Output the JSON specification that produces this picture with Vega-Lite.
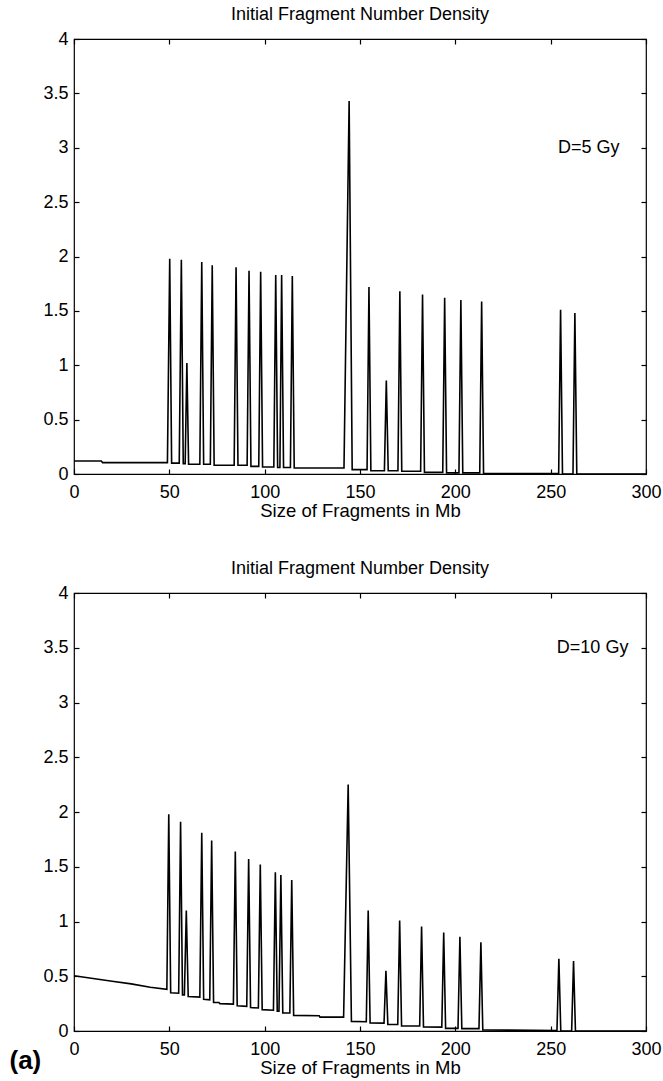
{
  "$schema": "https://vega.github.io/schema/vega-lite/v6.json",
  "padding": {"left": 8, "top": 5, "right": 5, "bottom": 0},
  "background": "white",
  "config": {
    "font": "Liberation Sans",
    "view": {"stroke": "black", "strokeWidth": 1.2},
    "concat": {"spacing": 38},
    "axis": {
      "grid": false,
      "domain": false,
      "tickColor": "black",
      "tickWidth": 1.2,
      "labelColor": "black",
      "titleColor": "black",
      "labelFontSize": 18,
      "titleFontSize": 18.5,
      "titleFontWeight": "normal",
      "labelFlush": false,
      "tickSize": 5,
      "offset": -5,
      "titlePadding": 0
    },
    "title": {"fontSize": 18, "fontWeight": "normal", "color": "black", "offset": 6}
  },
  "datasets": {
    "d5": [
      {"size": 0, "density": 0.12}, {"size": 14.3, "density": 0.12}, {"size": 15, "density": 0.105},
      {"size": 49, "density": 0.105}, {"size": 50.2, "density": 1.98}, {"size": 51.2, "density": 0.1},
      {"size": 55.2, "density": 0.1}, {"size": 56.3, "density": 1.97}, {"size": 57.3, "density": 0.095},
      {"size": 58.3, "density": 0.095}, {"size": 59.2, "density": 1.02}, {"size": 60.1, "density": 0.09},
      {"size": 66, "density": 0.09}, {"size": 67, "density": 1.95}, {"size": 68, "density": 0.09},
      {"size": 71.5, "density": 0.09}, {"size": 72.5, "density": 1.92}, {"size": 73.5, "density": 0.08},
      {"size": 84, "density": 0.08}, {"size": 85, "density": 1.9}, {"size": 86, "density": 0.08},
      {"size": 90.8, "density": 0.08}, {"size": 91.8, "density": 1.87}, {"size": 92.8, "density": 0.07},
      {"size": 96.9, "density": 0.07}, {"size": 97.9, "density": 1.86}, {"size": 98.9, "density": 0.065},
      {"size": 104.8, "density": 0.065}, {"size": 105.8, "density": 1.83}, {"size": 106.8, "density": 0.06},
      {"size": 108, "density": 0.06}, {"size": 108.9, "density": 1.83}, {"size": 109.9, "density": 0.06},
      {"size": 113.5, "density": 0.06}, {"size": 114.5, "density": 1.82}, {"size": 115.5, "density": 0.055},
      {"size": 141.6, "density": 0.055}, {"size": 144.3, "density": 3.43}, {"size": 145.9, "density": 0.04},
      {"size": 153.7, "density": 0.04}, {"size": 154.7, "density": 1.72}, {"size": 155.7, "density": 0.03},
      {"size": 162.8, "density": 0.03}, {"size": 163.8, "density": 0.86}, {"size": 164.8, "density": 0.03},
      {"size": 169.9, "density": 0.03}, {"size": 170.9, "density": 1.68}, {"size": 171.9, "density": 0.025},
      {"size": 181.8, "density": 0.025}, {"size": 182.8, "density": 1.65}, {"size": 183.8, "density": 0.015},
      {"size": 193.4, "density": 0.015}, {"size": 194.4, "density": 1.62}, {"size": 195.4, "density": 0.01},
      {"size": 201.9, "density": 0.01}, {"size": 202.9, "density": 1.6}, {"size": 203.9, "density": 0.01},
      {"size": 212.8, "density": 0.01}, {"size": 213.8, "density": 1.585}, {"size": 214.8, "density": 0.005},
      {"size": 254.2, "density": 0.005}, {"size": 255.2, "density": 1.51}, {"size": 256.2, "density": 0},
      {"size": 261.7, "density": 0}, {"size": 262.7, "density": 1.48}, {"size": 263.7, "density": 0},
      {"size": 300, "density": 0}
    ],
    "d10": [
      {"size": 0, "density": 0.505}, {"size": 10, "density": 0.48}, {"size": 20, "density": 0.455},
      {"size": 30, "density": 0.43}, {"size": 40, "density": 0.4},
      {"size": 48.7, "density": 0.38}, {"size": 49.7, "density": 1.98}, {"size": 50.7, "density": 0.35},
      {"size": 54.9, "density": 0.345}, {"size": 55.9, "density": 1.91}, {"size": 56.9, "density": 0.33},
      {"size": 57.9, "density": 0.33}, {"size": 58.9, "density": 1.1}, {"size": 59.9, "density": 0.315},
      {"size": 66, "density": 0.31}, {"size": 67, "density": 1.81}, {"size": 68, "density": 0.29},
      {"size": 71.2, "density": 0.285}, {"size": 72.2, "density": 1.74}, {"size": 73.2, "density": 0.26},
      {"size": 76, "density": 0.26}, {"size": 76.5, "density": 0.25},
      {"size": 83.6, "density": 0.245}, {"size": 84.6, "density": 1.64}, {"size": 85.6, "density": 0.23},
      {"size": 90.6, "density": 0.225}, {"size": 91.6, "density": 1.57}, {"size": 92.6, "density": 0.215},
      {"size": 96.7, "density": 0.21}, {"size": 97.7, "density": 1.52}, {"size": 98.7, "density": 0.195},
      {"size": 104.6, "density": 0.19}, {"size": 105.6, "density": 1.45}, {"size": 106.6, "density": 0.18},
      {"size": 107.5, "density": 0.18}, {"size": 108.5, "density": 1.425}, {"size": 109.5, "density": 0.165},
      {"size": 113.2, "density": 0.165}, {"size": 114.2, "density": 1.38}, {"size": 115.2, "density": 0.143},
      {"size": 128.6, "density": 0.14}, {"size": 129, "density": 0.127},
      {"size": 141.4, "density": 0.127}, {"size": 143.8, "density": 2.25}, {"size": 145.5, "density": 0.088},
      {"size": 153.3, "density": 0.085}, {"size": 154.3, "density": 1.1}, {"size": 155.3, "density": 0.073},
      {"size": 162.6, "density": 0.072}, {"size": 163.6, "density": 0.55}, {"size": 164.6, "density": 0.06},
      {"size": 169.8, "density": 0.06}, {"size": 170.8, "density": 1.01}, {"size": 171.8, "density": 0.045},
      {"size": 181.3, "density": 0.045}, {"size": 182.3, "density": 0.955}, {"size": 183.3, "density": 0.036},
      {"size": 192.9, "density": 0.035}, {"size": 193.9, "density": 0.9}, {"size": 194.9, "density": 0.024},
      {"size": 201.4, "density": 0.024}, {"size": 202.4, "density": 0.86}, {"size": 203.4, "density": 0.022},
      {"size": 212.4, "density": 0.022}, {"size": 213.4, "density": 0.81}, {"size": 214.4, "density": 0.01},
      {"size": 253.3, "density": 0.005}, {"size": 254.3, "density": 0.66}, {"size": 255.3, "density": 0},
      {"size": 261, "density": 0}, {"size": 262, "density": 0.64}, {"size": 263, "density": 0},
      {"size": 300, "density": 0}
    ],
    "lab5": [{"size": 270, "density": 3.0, "label": "D=5 Gy"}],
    "lab10": [{"size": 272, "density": 3.5, "label": "D=10 Gy"}],
    "panel": [{"size": -25.5, "density": -0.27, "label": "(a)"}]
  },
  "vconcat": [
    {
      "width": 572,
      "height": 435,
      "title": "Initial Fragment Number Density",
      "resolve": {"axis": {"x": "independent", "y": "independent"}},
      "layer": [
        {
          "data": {"name": "d5"},
          "mark": {"type": "line", "color": "black", "strokeWidth": 1.6, "interpolate": "linear"},
          "encoding": {
            "x": {"field": "size", "type": "quantitative", "scale": {"domain": [0, 300], "nice": false},
                  "axis": {"orient": "bottom", "values": [0, 50, 100, 150, 200, 250, 300], "labelPadding": 9, "title": "Size of Fragments in Mb"}},
            "y": {"field": "density", "type": "quantitative", "scale": {"domain": [0, 4], "nice": false},
                  "axis": {"orient": "left", "values": [0, 0.5, 1, 1.5, 2, 2.5, 3, 3.5, 4], "labelPadding": 6, "format": "~g", "title": null}}
          }
        },
        {
          "data": {"name": "lab5"},
          "mark": {"type": "text", "fontSize": 18, "color": "black", "align": "center", "baseline": "middle"},
          "encoding": {
            "x": {"field": "size", "type": "quantitative", "scale": {"domain": [0, 300], "nice": false},
                  "axis": {"orient": "top", "values": [0, 50, 100, 150, 200, 250, 300], "labels": false, "title": null}},
            "y": {"field": "density", "type": "quantitative", "scale": {"domain": [0, 4], "nice": false},
                  "axis": {"orient": "right", "values": [0, 0.5, 1, 1.5, 2, 2.5, 3, 3.5, 4], "labels": false, "title": null}},
            "text": {"field": "label"}
          }
        }
      ]
    },
    {
      "width": 572,
      "height": 438,
      "title": "Initial Fragment Number Density",
      "resolve": {"axis": {"x": "independent", "y": "independent"}},
      "layer": [
        {
          "data": {"name": "d10"},
          "mark": {"type": "line", "color": "black", "strokeWidth": 1.6, "interpolate": "linear"},
          "encoding": {
            "x": {"field": "size", "type": "quantitative", "scale": {"domain": [0, 300], "nice": false},
                  "axis": {"orient": "bottom", "values": [0, 50, 100, 150, 200, 250, 300], "labelPadding": 9, "title": "Size of Fragments in Mb"}},
            "y": {"field": "density", "type": "quantitative", "scale": {"domain": [0, 4], "nice": false},
                  "axis": {"orient": "left", "values": [0, 0.5, 1, 1.5, 2, 2.5, 3, 3.5, 4], "labelPadding": 6, "format": "~g", "title": null}}
          }
        },
        {
          "data": {"name": "lab10"},
          "mark": {"type": "text", "fontSize": 18, "color": "black", "align": "center", "baseline": "middle"},
          "encoding": {
            "x": {"field": "size", "type": "quantitative", "scale": {"domain": [0, 300], "nice": false},
                  "axis": {"orient": "top", "values": [0, 50, 100, 150, 200, 250, 300], "labels": false, "title": null}},
            "y": {"field": "density", "type": "quantitative", "scale": {"domain": [0, 4], "nice": false},
                  "axis": {"orient": "right", "values": [0, 0.5, 1, 1.5, 2, 2.5, 3, 3.5, 4], "labels": false, "title": null}},
            "text": {"field": "label"}
          }
        },
        {
          "data": {"name": "panel"},
          "mark": {"type": "text", "fontSize": 26, "fontWeight": "bold", "color": "black", "align": "center", "baseline": "middle"},
          "encoding": {
            "x": {"field": "size", "type": "quantitative", "scale": {"domain": [0, 300], "nice": false}, "axis": null},
            "y": {"field": "density", "type": "quantitative", "scale": {"domain": [0, 4], "nice": false}, "axis": null},
            "text": {"field": "label"}
          }
        }
      ]
    }
  ]
}
